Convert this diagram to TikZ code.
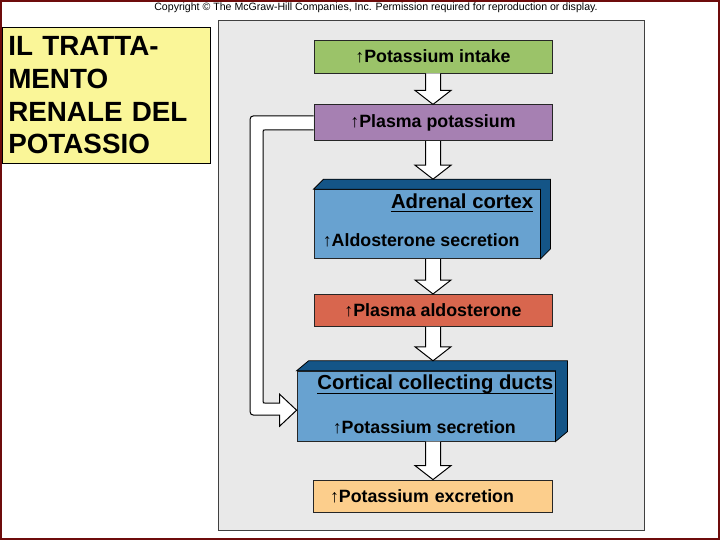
\documentclass[tikz,border=0pt]{standalone}
\usepackage{fontspec}
\setmainfont{Liberation Sans}
\usetikzlibrary{positioning, calc}

\definecolor{slideframe}{RGB}{110,12,12}
\definecolor{panelgray}{RGB}{233,233,233}
\definecolor{titleyellow}{RGB}{250,246,152}
\definecolor{intakegreen}{RGB}{155,195,105}
\definecolor{plasmapurple}{RGB}{166,128,178}
\definecolor{cubeblue}{RGB}{104,162,208}
\definecolor{cubedark}{RGB}{20,85,135}
\definecolor{aldored}{RGB}{216,102,78}
\definecolor{excorange}{RGB}{252,206,140}

% fat hollow arrow between two boxes, on the common axis
\newcommand{\fatarrow}[2]{%
  \draw[hollow] ($(#1 -| axis)+(-7.5,0)$) -- ($(#2 -| axis)+(-7.5,-14)$)
    -- ($(#2 -| axis)+(-18,-14)$) -- (#2 -| axis) -- ($(#2 -| axis)+(18,-14)$)
    -- ($(#2 -| axis)+(7.5,-14)$) -- ($(#1 -| axis)+(7.5,0)$);}

% top and side faces of a box drawn as a slab
\newcommand{\slabfaces}[3]{%
  \draw[line width=0.8pt, fill=cubedark] (#1.north west) -- ++(#2,-#3)
    -- ($(#1.north east)+(#2,-#3)$) -- ($(#1.south east)+(#2,-#3)$)
    -- (#1.south east) -- (#1.north east) -- cycle;}

\begin{document}
\begin{tikzpicture}[
  x=1pt, y=-1pt,
  box/.style = {draw=black!85, line width=0.8pt, inner sep=0pt, minimum width=238pt,
                font=\fontsize{17.8}{20}\bfseries},
  slab/.style = {draw=black!85, line width=0.8pt, inner sep=0pt, fill=cubeblue},
  lbl/.style = {inner sep=0pt, font=\fontsize{17.8}{20}\bfseries},
  hdr/.style = {inner sep=0pt, font=\fontsize{20.3}{22}\bfseries},
  hollow/.style = {draw, line width=1pt, fill=white, line join=miter}
]

  \useasboundingbox (0,0) rectangle (720,540);

  % slide frame and grey panel
  \draw[slideframe, line width=2pt] (1,1) rectangle (719,539);
  \draw[fill=panelgray, draw=black!75, line width=0.8pt] (218,20) rectangle (644,530);

  % copyright line
  \node[anchor=base, inner sep=0pt, font=\fontsize{10.6}{11}\selectfont] (copy) at (376,10.5)
    {Copyright \textcopyright\ The McGraw-Hill Companies, Inc. Permission required for reproduction or display.};

  % title
  \node[draw, line width=0.6pt, fill=titleyellow, anchor=north west, minimum width=208pt,
        minimum height=136pt, text width=196pt, inner xsep=6pt, align=left,
        font=\fontsize{27.8}{32.7}\bfseries] (title) at (2,27)
    {IL TRATTA-\\MENTO\\RENALE DEL\\POTASSIO};

  \coordinate (axis) at (433,0);

  % chain of boxes
  \node[box, fill=intakegreen, minimum height=33pt] (intake) at (433,56.5) {↑Potassium intake};
  \node[box, fill=plasmapurple, minimum height=36pt, below=31pt of intake] (plasmak) {↑Plasma potassium};
  \node[slab, minimum width=226pt, minimum height=69pt,
        below right=48pt and 0pt of plasmak.south west] (adrenal) {};
  \node[box, fill=aldored, minimum height=32pt,
        below right=35pt and 0pt of adrenal.south west] (aldo) {↑Plasma aldosterone};
  \node[slab, minimum width=258pt, minimum height=70pt,
        below right=44pt and -17pt of aldo.south west] (cortical) {};
  \node[box, fill=excorange, minimum width=239pt, minimum height=32pt, text width=205pt,
        align=left, inner xsep=17pt, below right=38pt and 16pt of cortical.south west] (excr)
    {↑Potassium excretion};

  % slab faces
  \slabfaces{adrenal}{10}{10}
  \slabfaces{cortical}{12}{10}
  \coordinate (adrtop) at ($(adrenal.north)+(0,-10)$);
  \coordinate (cortop) at ($(cortical.north)+(0,-10)$);

  % texts on the slabs
  \node[hdr, anchor=base east] (adrhead) at ($(adrenal.north east)+(-7,19)$) {Adrenal cortex};
  \draw[line width=1.6pt] ($(adrhead.base west)+(0,3.5)$) -- ($(adrhead.base east)+(0,3.5)$);
  \node[lbl, anchor=base west] (adrtext) at ($(adrenal.south west)+(9,-12)$) {↑Aldosterone secretion};

  \node[hdr, anchor=base east] (corhead) at ($(cortical.north east)+(-2,19)$) {Cortical collecting ducts};
  \draw[line width=1.6pt] ($(corhead.base west)+(0,3.5)$) -- ($(corhead.base east)+(0,3.5)$);
  \node[lbl, anchor=base west] (cortext) at ($(cortical.south west)+(36,-8)$) {↑Potassium secretion};

  % downward arrows
  \fatarrow{intake.south}{plasmak.north}
  \fatarrow{plasmak.south}{adrtop}
  \fatarrow{adrenal.south}{aldo.north}
  \fatarrow{aldo.south}{cortop}
  \fatarrow{cortical.south}{excr.north}

  % feedback arrow plasma potassium -> collecting ducts
  \coordinate (rail) at (250,0);
  \coordinate (fbA) at ($(plasmak.west)+(0,-7)$);
  \coordinate (fbB) at ($(plasmak.west)+(0,7)$);
  \coordinate (fbtip) at ($(cortical.west)+(0,4)$);
  \draw[hollow] (fbA) -- ($(fbA -| rail)+(8,0)$) .. controls (fbA -| rail) .. ($(fbA -| rail)+(0,8)$)
    -- ($(fbtip -| rail)+(0,-3)$) .. controls ($(fbtip -| rail)+(0,5)$) .. ($(fbtip -| rail)+(8,5)$)
    -- ($(fbtip)+(-17,5)$) -- ($(fbtip)+(-17,16)$) -- (fbtip) -- ($(fbtip)+(-17,-16)$)
    -- ($(fbtip)+(-17,-7)$) -- ($(fbtip -| rail)+(16,-7)$)
    .. controls ($(fbtip -| rail)+(13,-7)$) .. ($(fbtip -| rail)+(13,-10)$)
    -- ($(fbB -| rail)+(13,3)$) .. controls ($(fbB -| rail)+(13,0)$) .. ($(fbB -| rail)+(16,0)$)
    -- (fbB);

\end{tikzpicture}
\end{document}
